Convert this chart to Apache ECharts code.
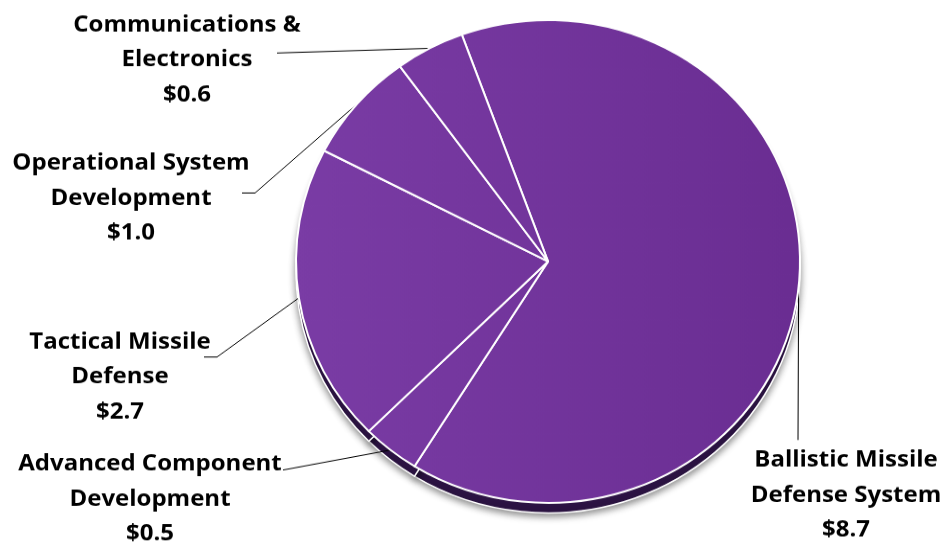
<!DOCTYPE html>
<html>
<head>
<meta charset="utf-8">
<script src="https://cdn.jsdelivr.net/npm/echarts@6/dist/echarts.min.js"></script>
<style>
  html, body { margin: 0; padding: 0; background: #ffffff; overflow: hidden; }
  #chart { width: 944px; transform-origin: 0 0; }
</style>
</head>
<body>
<div id="chart"></div>
<script>
// Program funding ($ billions), listed clockwise from the top of the pie
const categories = [
  'Ballistic Missile\nDefense System',
  'Advanced Component\nDevelopment',
  'Tactical Missile\nDefense',
  'Operational System\nDevelopment',
  'Communications &\nElectronics'
];
const values = [8.7, 0.5, 2.7, 1.0, 0.6];

// The pie is drawn a little flattened: the canvas is taller than the page
// and squeezed vertically by TILT, so every page y is divided by TILT here.
const PAGE_W = 944, PAGE_H = 546, TILT = 0.958;
const py = y => y / TILT;

// Where each label block sits and how its leader line bends (page pixels)
const labelSpots = [
  { at: [846, 495], line: [[798, 440], [798, 440]] },
  { at: [150, 499], line: [[283, 470], [283, 470]] },
  { at: [120, 377], line: [[217, 357], [204, 357]] },
  { at: [131, 198], line: [[255, 193], [242, 193]] },
  { at: [187, 60],  line: [[277, 53],  [277, 53]] }
];

const CX = 548, CY = py(261.5), R = 252, DEPTH = py(10);
const START = 110;

const el = document.getElementById('chart');
el.style.height = Math.round(PAGE_H / TILT) + 'px';
el.style.transform = 'scaleY(' + TILT + ')';

const pieData = categories.map((name, i) => ({ name: name, value: values[i] }));

const chart = echarts.init(el, null, { renderer: 'canvas' });

chart.setOption({
  animation: false,
  backgroundColor: '#ffffff',
  series: [
    {
      // dark rim beneath the top face
      type: 'pie',
      z: 1,
      silent: true,
      center: [CX, CY + DEPTH],
      radius: R,
      startAngle: START,
      clockwise: true,
      label: { show: false },
      labelLine: { show: false },
      itemStyle: {
        color: '#2c1343',
        borderColor: '#ffffff',
        borderWidth: 1.5,
        shadowColor: 'rgba(0,0,0,0.45)',
        shadowBlur: 7,
        shadowOffsetY: 3
      },
      emphasis: { disabled: true },
      data: pieData
    },
    {
      type: 'pie',
      z: 2,
      center: [CX, CY],
      radius: R,
      startAngle: START,
      clockwise: true,
      avoidLabelOverlap: false,
      itemStyle: {
        color: {
          type: 'linear', global: true,
          x: CX - R, y: 0, x2: CX + R, y2: 0,
          colorStops: [
            { offset: 0, color: '#7a3ca5' },
            { offset: 1, color: '#6a2d92' }
          ]
        },
        borderColor: '#ffffff',
        borderWidth: 2
      },
      emphasis: { disabled: true },
      label: {
        show: true,
        position: 'outside',
        formatter: p => p.name + '\n$' + p.value.toFixed(1),
        fontFamily: '"Open Sans", Lato, sans-serif',
        fontWeight: 'bold',
        fontSize: 24,
        lineHeight: py(35),
        color: '#000000',
        align: 'center'
      },
      labelLine: {
        show: true,
        lineStyle: { color: '#000000', width: 1 }
      },
      labelLayout: function (params) {
        const spot = labelSpots[params.dataIndex];
        const toCanvas = p => [p[0], py(p[1])];
        const start = params.labelLinePoints ? params.labelLinePoints[0] : toCanvas(spot.line[0]);
        return {
          x: spot.at[0],
          y: py(spot.at[1]),
          align: 'center',
          verticalAlign: 'middle',
          labelLinePoints: [start, toCanvas(spot.line[0]), toCanvas(spot.line[1])]
        };
      },
      data: pieData
    }
  ]
});
</script>
</body>
</html>
